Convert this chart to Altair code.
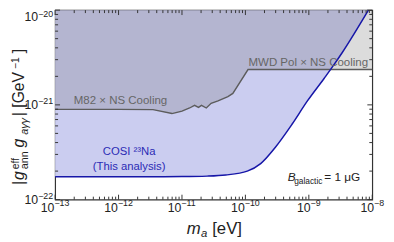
import altair as alt
import pandas as pd

# ---- data ----
blue_m = [1e-13, 1e-12, 1e-11, 2.5e-11, 4.9e-11, 1.07e-10, 1.74e-10, 2.95e-10,
          5.4e-10, 9.5e-10, 1.74e-9, 2.34e-9, 3.35e-9, 8.7e-9]
blue_g = [1.74e-22, 1.74e-22, 1.75e-22, 1.77e-22, 1.82e-22, 2.0e-22, 2.4e-22, 3.55e-22,
          6.2e-22, 1.1e-21, 1.9e-21, 2.5e-21, 3.55e-21, 1.0e-20]

grey_m = [1e-13, 1e-12, 3.5e-12, 6.95e-12, 1.0e-11, 1.32e-11, 1.58e-11, 1.82e-11,
          2.03e-11, 2.42e-11, 2.88e-11, 3.7e-11, 5.3e-11, 6.34e-11, 1.1e-10, 1e-8]
grey_g = [8.97e-22, 8.97e-22, 8.9e-22, 8.1e-22, 8.6e-22, 9.27e-22, 9.89e-22, 9.42e-22,
          9.89e-22, 9.27e-22, 1.04e-21, 1.1e-21, 1.22e-21, 1.32e-21, 2.36e-21, 2.36e-21]

x_ticks = [1e-13, 1e-12, 1e-11, 1e-10, 1e-9, 1e-8]
x_tick_exps = ["−13", "−12", "−11", "−10", "−9", "−8"]
y_ticks = [1e-22, 1e-21, 1e-20]
y_tick_exps = ["−22", "−21", "−20"]

W, H = 323, 193
FONT = "Liberation Sans"
TOP = 1e-20
LAB, EXP = 12.5, 9          # tick label font sizes

xs = alt.Scale(type="log", domain=[1e-13, 1e-8], nice=False)
ys = alt.Scale(type="log", domain=[1e-22, 1e-20], nice=False)

blue_df = pd.DataFrame({"m": blue_m, "g": blue_g, "top": TOP})
grey_df = pd.DataFrame({"m": grey_m, "g": grey_g, "top": TOP})

blue_area = alt.Chart(blue_df).mark_area(color="#cbcdf0", opacity=1).encode(
    x=alt.X("m:Q", scale=xs, axis=None),
    y=alt.Y("g:Q", scale=ys, axis=None),
    y2="top:Q",
)
grey_area = alt.Chart(grey_df).mark_area(color="#676767", opacity=0.23).encode(
    x=alt.X("m:Q", scale=xs), y=alt.Y("g:Q", scale=ys), y2="top:Q")
grey_line = alt.Chart(grey_df).mark_line(color="#5c5c5c", strokeWidth=1.4).encode(
    x=alt.X("m:Q", scale=xs), y=alt.Y("g:Q", scale=ys))
blue_line = alt.Chart(blue_df).mark_line(color="#1616a8", strokeWidth=1.5,
                                         interpolate="monotone").encode(
    x=alt.X("m:Q", scale=xs), y=alt.Y("g:Q", scale=ys))


def dtext(t, m, g, color, size, italic=False, align="left", baseline="middle"):
    df = pd.DataFrame({"m": [m], "g": [g], "t": [t]})
    return alt.Chart(df).mark_text(
        color=color, fontSize=size, font=FONT, align=align, baseline=baseline,
        fontStyle="italic" if italic else "normal").encode(
        x=alt.X("m:Q", scale=xs), y=alt.Y("g:Q", scale=ys), text="t:N")


def ptext(t, x, y, size, italic=False, angle=0, align="left", baseline="alphabetic", color="#222"):
    df = pd.DataFrame({"t": [t]})
    kw = dict(color=color, fontSize=size, font=FONT, align=align, baseline=baseline,
              fontStyle="italic" if italic else "normal")
    if angle:
        kw["angle"] = angle
    return alt.Chart(df).mark_text(**kw).encode(
        x=alt.value(x), y=alt.value(y), text="t:N")


def wexp(s, size):
    return sum((0.584 if c == "−" else 0.556) for c in s) * size


W10 = 2 * 0.556 * LAB

# tick labels: "10" plus a raised exponent
tick_labels = []
for v, e in zip(x_ticks, x_tick_exps):
    df = pd.DataFrame({"v": [v], "a": ["10"], "b": [e]})
    off = W10 - (W10 + wexp(e, EXP)) / 2
    base = alt.Chart(df)
    tick_labels.append(base.mark_text(font=FONT, fontSize=LAB, color="#222", align="right",
                                      baseline="alphabetic", dx=off).encode(
        x=alt.X("v:Q", scale=xs), y=alt.value(H + 12.5), text="a:N"))
    tick_labels.append(base.mark_text(font=FONT, fontSize=EXP, color="#222", align="left",
                                      baseline="alphabetic", dx=off).encode(
        x=alt.X("v:Q", scale=xs), y=alt.value(H + 7), text="b:N"))
for v, e in zip(y_ticks, y_tick_exps):
    df = pd.DataFrame({"v": [v], "a": ["10"], "b": [e]})
    shift = 7 if v >= TOP else 0
    base = alt.Chart(df)
    tick_labels.append(base.mark_text(font=FONT, fontSize=EXP, color="#222", align="right",
                                      baseline="alphabetic", dy=-0.5 + shift).encode(
        y=alt.Y("v:Q", scale=ys), x=alt.value(-2), text="b:N"))
    tick_labels.append(base.mark_text(font=FONT, fontSize=LAB, color="#222", align="right",
                                      baseline="alphabetic", dy=4.5 + shift,
                                      dx=-wexp(e, EXP)).encode(
        y=alt.Y("v:Q", scale=ys), x=alt.value(-2), text="a:N"))

texts = [
    dtext("M82 × NS Cooling", 1.97e-13, 1.13e-21, "#666666", 11.7),
    dtext("MWD Pol × NS Cooling", 1.12e-10, 2.83e-21, "#666666", 11.7),
    dtext("COSI ²³Na", 1.47e-12, 3.14e-22, "#2b2bb5", 11.5, align="center"),
    dtext("(This analysis)", 1.47e-12, 2.2e-22, "#2b2bb5", 11.5, align="center"),
    dtext("B", 4.67e-10, 1.73e-22, "#222", 12, italic=True),
    dtext("galactic", 5.87e-10, 1.57e-22, "#222", 8.5),
    dtext("= 1 μG", 1.75e-9, 1.73e-22, "#222", 12),
]

# y title pieces (rotated, reading upward)
MB, SUP, SUB = -32, -37, -28
ytitle = [
    ptext("|", MB, 178, 16, angle=270),
    ptext("g", MB, 173, 16, italic=True, angle=270),
    ptext("eff", SUP, 162, 10.5, angle=270),
    ptext("ann", SUB, 162, 11, angle=270),
    ptext("g", MB, 140, 16, italic=True, angle=270),
    ptext("aγγ", SUB, 127, 11, italic=True, angle=270),
    ptext("| [GeV", MB, 108, 16, angle=270),
    ptext("−1", SUP, 60, 10.5, angle=270),
    ptext("]", MB, 44, 16, angle=270),
]
xtitle = [
    ptext("m", 134, 228, 17, italic=True),
    ptext("a", 148.5, 231, 11.5, italic=True),
    ptext("[eV]", 160, 228, 17),
]

# inward ticks on all four sides
x_minor = [k * d for d in x_ticks[:-1] for k in range(2, 10)]
y_minor = [k * d for d in y_ticks[:-1] for k in range(2, 10)]


def xticks(vals, length):
    df = pd.DataFrame({"v": vals})
    base = alt.Chart(df).mark_rule(color="#333", strokeWidth=1)
    return [base.encode(x=alt.X("v:Q", scale=xs), y=alt.value(H), y2=alt.value(H - length)),
            base.encode(x=alt.X("v:Q", scale=xs), y=alt.value(0), y2=alt.value(length))]


def yticks(vals, length):
    df = pd.DataFrame({"v": vals})
    base = alt.Chart(df).mark_rule(color="#333", strokeWidth=1)
    return [base.encode(y=alt.Y("v:Q", scale=ys), x=alt.value(0), x2=alt.value(length)),
            base.encode(y=alt.Y("v:Q", scale=ys), x=alt.value(W), x2=alt.value(W - length))]


ticks = xticks(x_ticks, 5) + xticks(x_minor, 3) + yticks(y_ticks, 5) + yticks(y_minor, 3)

chart = alt.layer(blue_area, grey_area, grey_line, blue_line, *texts, *ticks,
                  *tick_labels, *ytitle, *xtitle).properties(
    width=W, height=H,
    autosize=alt.AutoSizeParams(type="none"),
    padding={"left": 48, "top": 0, "right": 14, "bottom": 41},
).configure_view(stroke="#333", strokeWidth=1.2)

chart.save("out.html", embed_options={"renderer": "svg", "actions": False})
